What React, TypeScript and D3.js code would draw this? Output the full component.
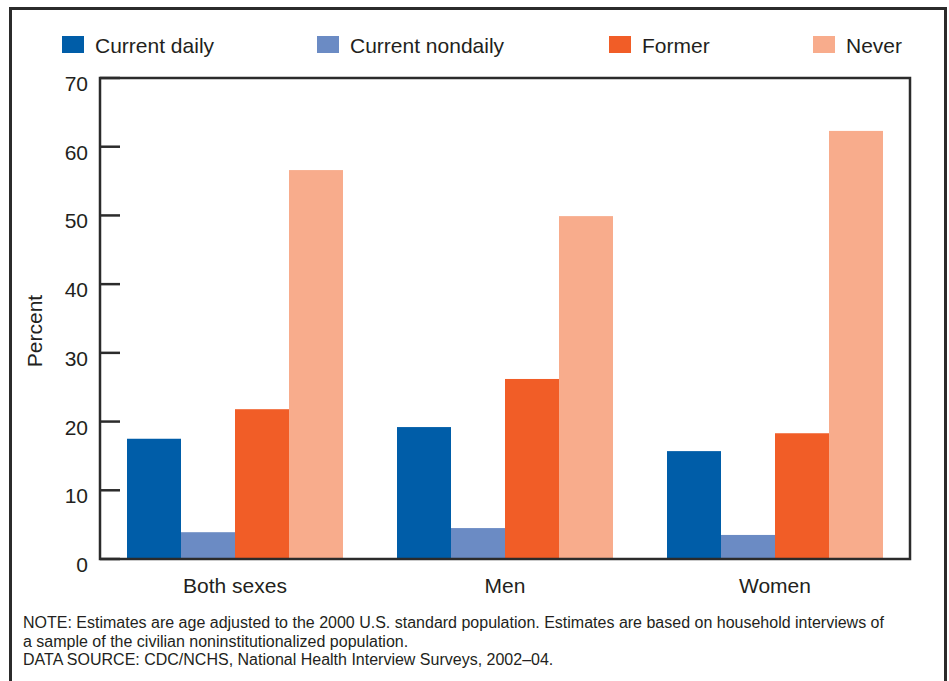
import React from 'react'
import * as d3 from 'd3'

const groups = ['Both sexes', 'Men', 'Women']
const series = ['Current daily', 'Current nondaily', 'Former', 'Never']
const colors = ['#005da8', '#6b8bc4', '#f15d27', '#f8ac8c']
const bothSexes = [17.5, 3.9, 21.8, 56.6]
const men = [19.2, 4.5, 26.2, 49.9]
const women = [15.7, 3.5, 18.3, 62.3]
const yTicks = [0, 10, 20, 30, 40, 50, 60, 70]
const legendX = [62, 317, 609, 813]
const noteLines = [
  'NOTE: Estimates are age adjusted to the 2000 U.S. standard population. Estimates are based on household interviews of',
  'a sample of the civilian noninstitutionalized population.',
  'DATA SOURCE: CDC/NCHS, National Health Interview Surveys, 2002–04.',
]

const W = 949
const H = 681
const plot = { left: 100, right: 910, top: 78, bottom: 559 }
const font = '"Liberation Sans", Arial, Helvetica, sans-serif'

export default function App() {
  const values = [bothSexes, men, women]

  const x0 = d3.scaleBand<string>()
    .domain(groups)
    .range([plot.left, plot.right])
    .paddingInner(0.2)
    .paddingOuter(0.1)

  const x1 = d3.scaleBand<string>()
    .domain(series)
    .range([0, x0.bandwidth()])

  const y = d3.scaleLinear()
    .domain([0, 70])
    .range([plot.bottom, plot.top])

  return (
    <svg width={W} height={H} style={{ position: 'absolute', left: 0, top: 0, background: '#fff' }}
      fontFamily={font}>
      {/* outer frame, runs off the bottom */}
      <path d={`M10.5,${H + 5} V8.5 H945.5 V${H + 5}`} fill="none" stroke="#2b2b2b" strokeWidth={3} />

      {/* legend */}
      {series.map((s, i) => (
        <g key={s}>
          <rect x={legendX[i]} y={36} width={22} height={17} fill={colors[i]} />
          <text x={legendX[i] + 33} y={53} fontSize={21} fill="#231f20">{s}</text>
        </g>
      ))}

      {/* bars */}
      {groups.map((g, gi) => (
        <g key={g} transform={`translate(${x0(g)},0)`}>
          {series.map((s, si) => (
            <rect key={s}
              x={x1(s)}
              y={y(values[gi][si])}
              width={x1.bandwidth()}
              height={y(0) - y(values[gi][si])}
              fill={colors[si]} />
          ))}
        </g>
      ))}

      {/* plot frame */}
      <rect x={plot.left} y={plot.top} width={plot.right - plot.left} height={plot.bottom - plot.top}
        fill="none" stroke="#2b2b2b" strokeWidth={2.5} />

      {/* y ticks */}
      {yTicks.map(t => (
        <g key={t}>
          <line x1={plot.left} x2={plot.left + 20} y1={y(t)} y2={y(t)} stroke="#2b2b2b" strokeWidth={2.5} />
          <text x={88} y={y(t) + 13} textAnchor="end" fontSize={21} fill="#231f20">{t}</text>
        </g>
      ))}

      <text transform="translate(42,331) rotate(-90)" textAnchor="middle" fontSize={21} fill="#231f20">Percent</text>

      {/* x labels */}
      {groups.map(g => (
        <text key={g} x={(x0(g) ?? 0) + x0.bandwidth() / 2} y={593} textAnchor="middle" fontSize={21} fill="#231f20">{g}</text>
      ))}

      {/* notes */}
      {noteLines.map((l, i) => (
        <text key={i} x={23} y={628 + i * 18.5} fontSize={16} fill="#231f20">{l}</text>
      ))}
    </svg>
  )
}
